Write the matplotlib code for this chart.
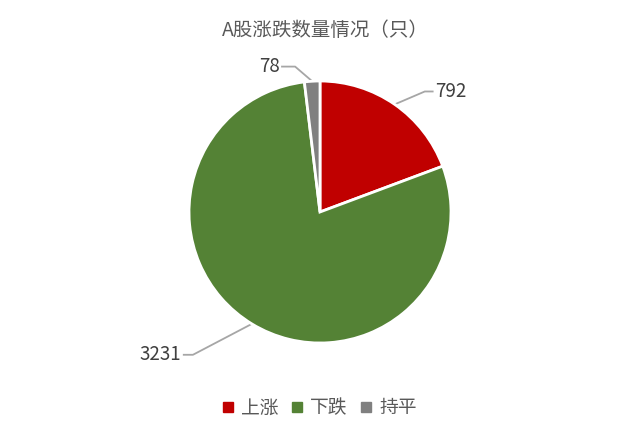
import matplotlib
matplotlib.use('Agg')
import matplotlib.pyplot as plt
from matplotlib.lines import Line2D
import numpy as np

plt.rcParams['font.family'] = ['Noto Sans CJK SC', 'DejaVu Sans']

# data
categories = ['上涨', '下跌', '持平']
counts = [792, 3231, 78]
colors = ['#C00000', '#548235', '#808080']
title = 'A股涨跌数量情况（只）'

W, H = 637, 430
fig = plt.figure(figsize=(W / 100, H / 100), dpi=100)

# pie axes: centre (320, 212) px, radius 131 px
cx, cy, r = 320, 212, 131
ax = fig.add_axes([(cx - r) / W, (H - cy - r) / H, 2 * r / W, 2 * r / H])

wedges, _ = ax.pie(counts, colors=colors, startangle=90, counterclock=False,
                   radius=1.0, wedgeprops=dict(edgecolor='white', linewidth=2))
ax.set_xlim(-1, 1)
ax.set_ylim(-1, 1)
ax.set_aspect('equal')
ax.axis('off')

# leader lines and labels (elbow point, end of horizontal tick)
line_col = '#A6A6A6'
txt_col = '#404040'
elbows = [(0.80, 0.92), (-0.97, -1.09), (-0.19, 1.11)]
ends = [(0.86, 0.92), (-1.04, -1.09), (-0.29, 1.11)]
for w, n, (ex, ey), (tx, ty) in zip(wedges, counts, elbows, ends):
    ang = np.deg2rad((w.theta1 + w.theta2) / 2)
    sx, sy = np.cos(ang), np.sin(ang)
    ax.plot([sx, ex, tx], [sy, ey, ty], color=line_col, lw=1.3,
            clip_on=False, zorder=0)
    if tx > ex:
        ax.text(tx + 0.02, ty, str(n), ha='left', va='center',
                fontsize=13.5, color=txt_col)
    else:
        ax.text(tx - 0.02, ty, str(n), ha='right', va='center',
                fontsize=13.5, color=txt_col)

fig.text(0.5 + 7 / W, 1 - 30 / H, title, ha='center', va='center', fontsize=14, color='#595959')

handles = [Line2D([0], [0], marker='s', linestyle='none', markersize=7,
                  markerfacecolor=c, markeredgecolor=c) for c in colors]
fig.legend(handles, categories, loc='center', bbox_to_anchor=(0.5, 1 - 408 / H),
           ncol=3, frameon=False, fontsize=13.5, handletextpad=0.3, columnspacing=0.6,
           labelcolor='#595959', handlelength=0.8)

fig.savefig('out.png', dpi=100, facecolor='white')
